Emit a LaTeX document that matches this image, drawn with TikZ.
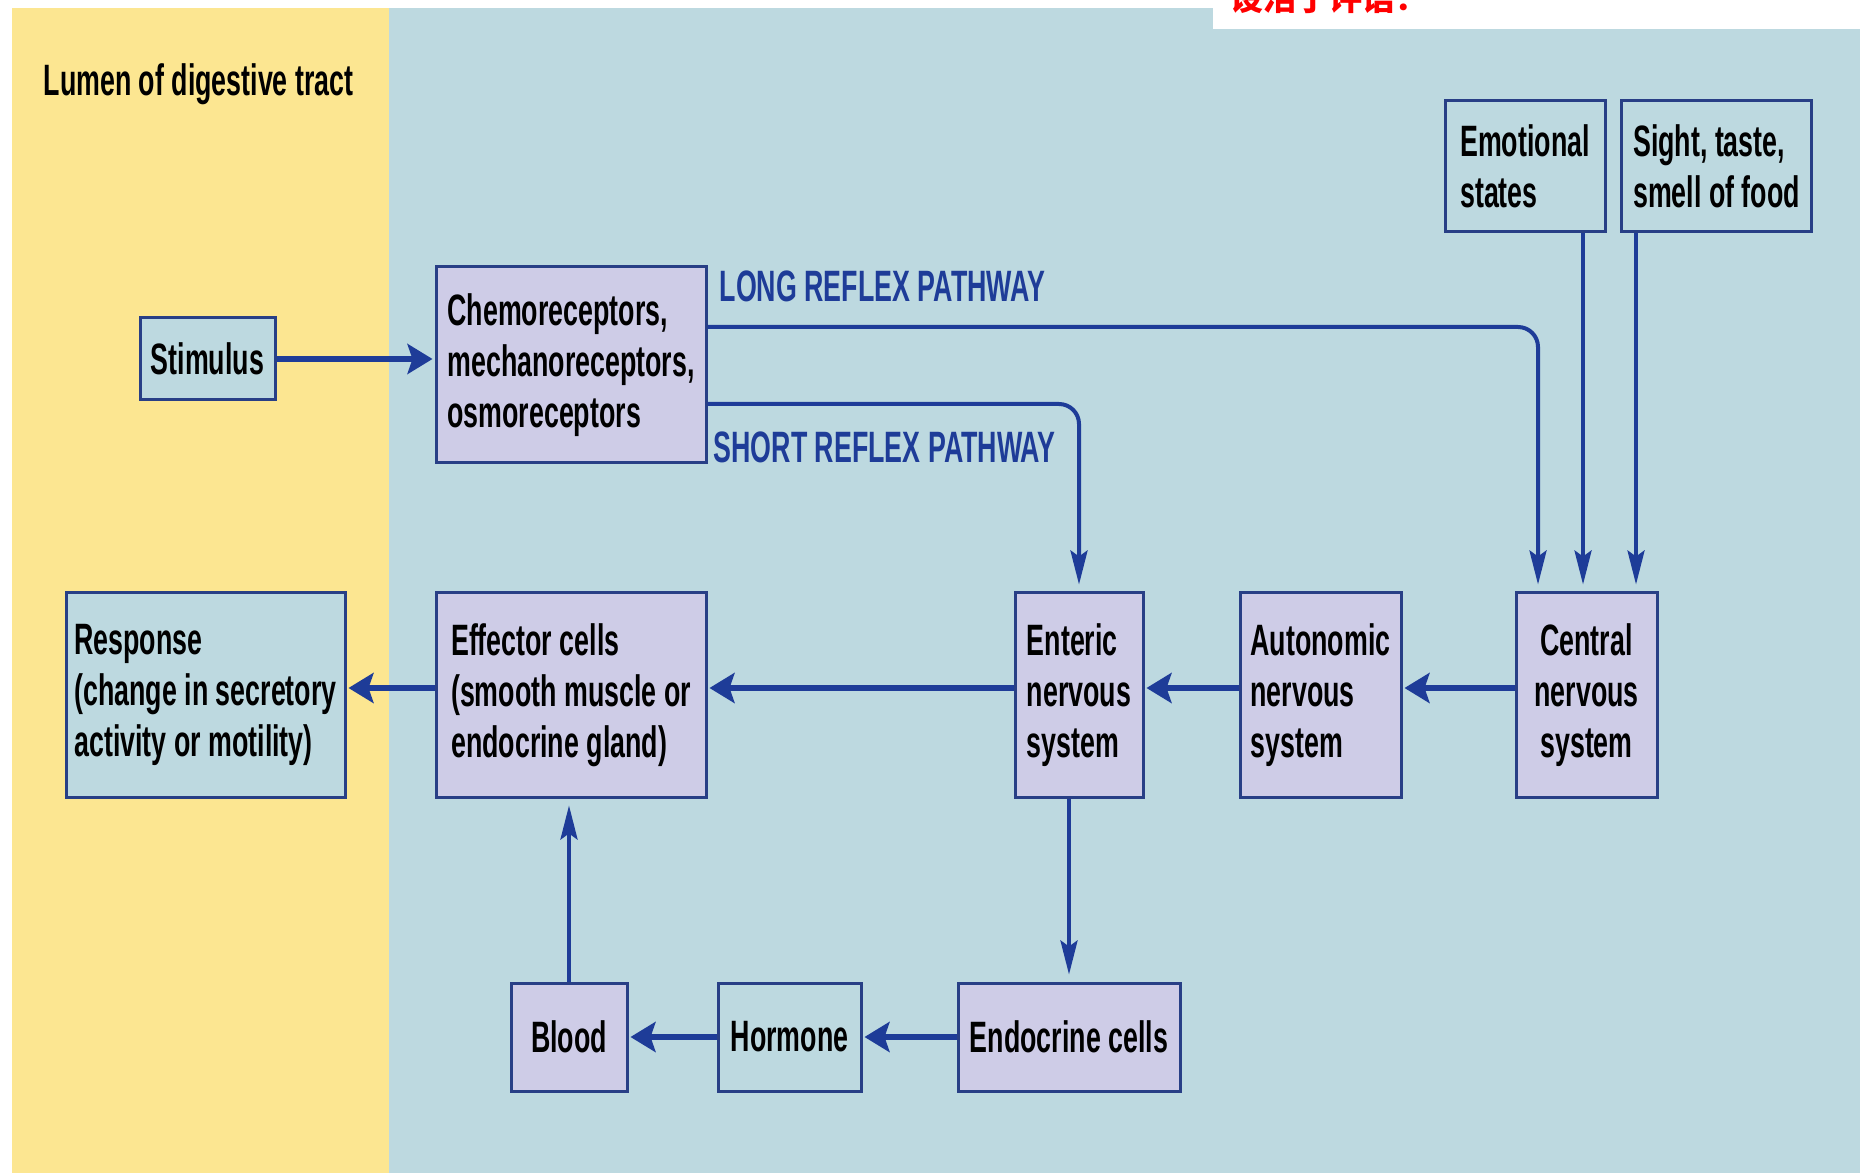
\documentclass[tikz,border=0pt]{standalone}
\usepackage{fontspec}
\setmainfont{Liberation Sans}[FakeStretch=0.61]
\newfontfamily\cjkfont{Noto Sans CJK SC}
\usetikzlibrary{arrows.meta}

\definecolor{lumen}{HTML}{FCE691}
\definecolor{tissue}{HTML}{BDD9E0}
\definecolor{lavender}{HTML}{CECCE7}
\definecolor{edge}{HTML}{283F86}
\definecolor{nerve}{HTML}{1E3C98}

\newcommand{\boxfont}{\bfseries\fontsize{12.5}{14.5}\selectfont}

\tikzset{
  box/.style={draw=edge, line width=0.03cm, fill=lavender, inner sep=0pt, align=left, font=\boxfont},
  palebox/.style={box, fill=tissue},
  hflow/.style={draw=nerve, line width=0.055cm, -{Stealth[length=0.25cm,width=0.3cm,inset=0.05cm]}, shorten >=0.02cm},
  vflow/.style={draw=nerve, line width=0.04cm, -{Stealth[length=0.34cm,width=0.17cm,inset=0.06cm]}, shorten >=0.07cm},
  pathlabel/.style={anchor=base west, inner sep=0pt, text=nerve, font=\boxfont}
}

\begin{document}
\begin{tikzpicture}[x=1cm, y=-1cm]
\useasboundingbox (0,0) rectangle (18.6,11.73);

% Background
\fill[white] (0,0) rectangle (18.6,11.73);
\fill[lumen] (0.12,0.08) rectangle (3.89,11.73);
\fill[tissue] (3.89,0.08) rectangle (18.6,11.73);
\fill[white] (12.13,0) rectangle (18.6,0.29);
\node[anchor=base west, inner sep=0pt, text=red, font=\cjkfont\bfseries\fontsize{9.4}{9.4}\selectfont] (note) at (12.3,0.11) {设活了评语：};

\node[anchor=base west, inner sep=0pt, font=\boxfont] (lumenlabel) at (0.43,0.96) {Lumen of digestive tract};

% Receptor side
\node[palebox, minimum width=1.35cm, minimum height=0.82cm] (stim) at (2.075,3.59) {Stimulus};
\node[box, minimum width=2.70cm, minimum height=1.96cm] (chemo) at (5.71,3.65) {Chemoreceptors,\\mechanoreceptors,\\osmoreceptors};

% Inputs to the CNS
\node[palebox, minimum width=1.60cm, minimum height=1.31cm] (emo) at (15.25,1.665) {Emotional\\states};
\node[palebox, minimum width=1.90cm, minimum height=1.31cm] (sight) at (17.165,1.665) {Sight, taste,\\smell of food};

% Middle row
\node[palebox, minimum width=2.79cm, minimum height=2.04cm] (resp) at (2.055,6.95) {Response\\(change in secretory\\activity or motility)};
\node[box, minimum width=2.70cm, minimum height=2.04cm] (eff) at (5.71,6.95) {Effector cells\\(smooth muscle or\\endocrine gland)};
\node[box, minimum width=1.28cm, minimum height=2.04cm] (ens) at (10.79,6.95) {Enteric\\nervous\\system};
\node[box, minimum width=1.61cm, minimum height=2.04cm] (ans) at (13.205,6.95) {Autonomic\\nervous\\system};
\node[box, minimum width=1.41cm, minimum height=2.04cm, align=center] (cns) at (15.865,6.95) {Central\\nervous\\system};

% Bottom row
\node[box, minimum width=1.16cm, minimum height=1.08cm] (blood) at (5.69,10.37) {Blood};
\node[palebox, minimum width=1.43cm, minimum height=1.08cm] (horm) at (7.895,10.37) {Hormone};
\node[box, minimum width=2.22cm, minimum height=1.08cm] (endo) at (10.69,10.37) {Endocrine cells};

% Pathway labels
\node[pathlabel] (longlabel) at (7.19,3.02) {LONG REFLEX PATHWAY};
\node[pathlabel] (shortlabel) at (7.13,4.63) {SHORT REFLEX PATHWAY};

% Arrows
\draw[hflow] (stim.east) -- (stim.east -| chemo.west);
\draw[vflow, rounded corners=0.2cm] ([yshift=0.38cm]chemo.east) -| ([xshift=-0.485cm]cns.north);
\draw[vflow, rounded corners=0.2cm] ([yshift=-0.39cm]chemo.east) -| (ens.north);
\draw[vflow] ([xshift=0.58cm]emo.south) -- ([xshift=0.58cm]emo.south |- cns.north);
\draw[vflow] ([xshift=-0.805cm]sight.south) -- ([xshift=-0.805cm]sight.south |- cns.north);

\foreach \a/\b in {cns/ans, ans/ens, ens/eff, eff/resp}
    \draw[hflow] ([yshift=0.07cm]\a.west) -- ([yshift=0.07cm]\b.east);

\draw[vflow] (endo.north |- ens.south) -- (endo.north);
\draw[hflow] (endo.west) -- (horm.east);
\draw[hflow] (horm.west) -- (blood.east);
\draw[vflow] (blood.north) -- (blood.north |- eff.south);
\end{tikzpicture}
\end{document}
